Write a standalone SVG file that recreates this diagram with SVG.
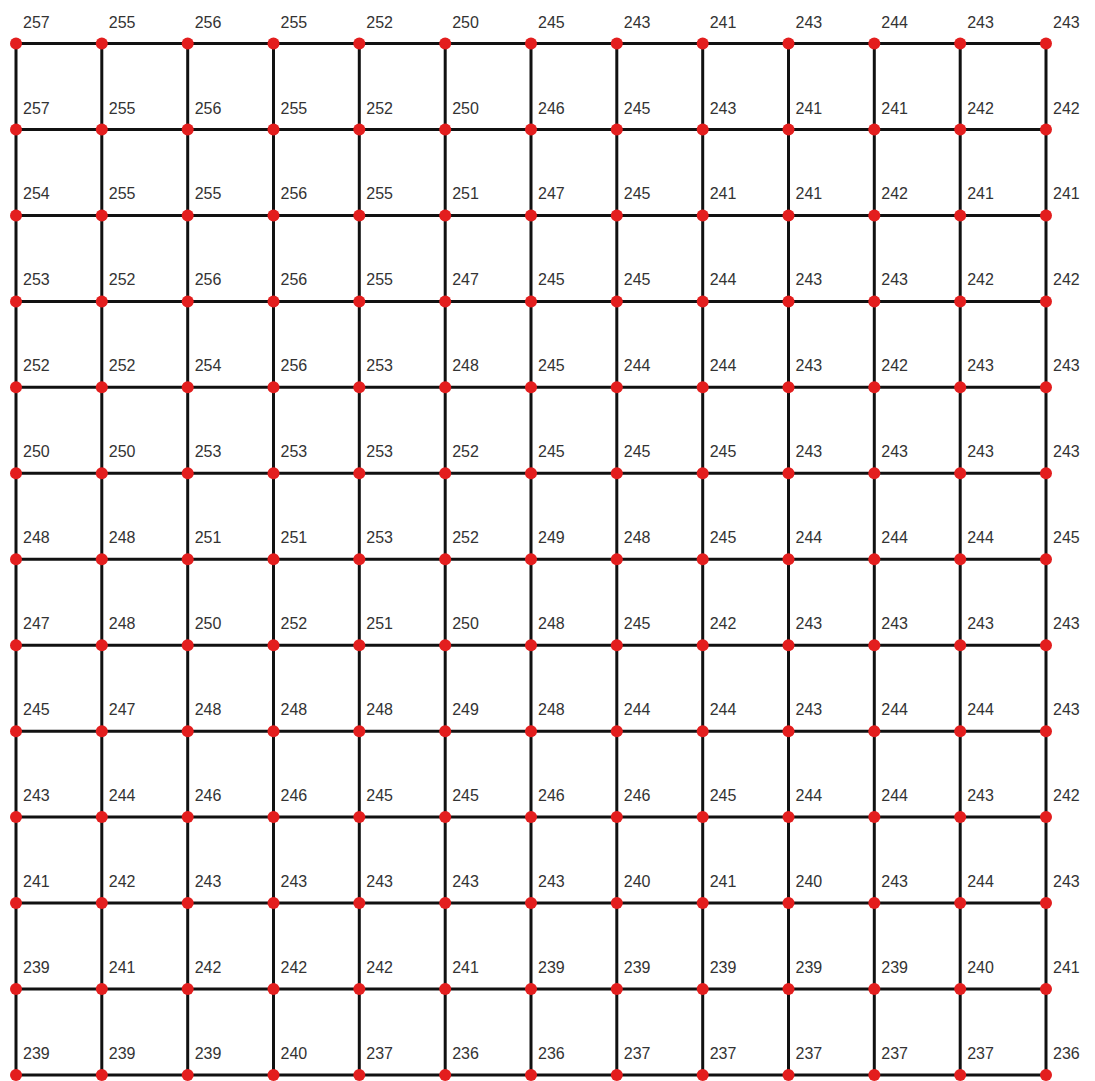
<svg xmlns="http://www.w3.org/2000/svg" width="1095" height="1081" viewBox="0 0 1095 1081">
<style>
.e{stroke:#111;stroke-width:3;fill:none}
.n circle{fill:#e31e1e}
.n text{font-family:"Liberation Sans",Arial,sans-serif;font-size:16px;fill:#333}
</style>
<rect width="1095" height="1081" fill="#fff"/>
<g id="connectors" class="e">
<line x1="16" y1="43.5" x2="1046" y2="43.5"/>
<line x1="16" y1="129.5" x2="1046" y2="129.5"/>
<line x1="16" y1="215.4" x2="1046" y2="215.4"/>
<line x1="16" y1="301.4" x2="1046" y2="301.4"/>
<line x1="16" y1="387.3" x2="1046" y2="387.3"/>
<line x1="16" y1="473.3" x2="1046" y2="473.3"/>
<line x1="16" y1="559.3" x2="1046" y2="559.3"/>
<line x1="16" y1="645.2" x2="1046" y2="645.2"/>
<line x1="16" y1="731.2" x2="1046" y2="731.2"/>
<line x1="16" y1="817.1" x2="1046" y2="817.1"/>
<line x1="16" y1="903.1" x2="1046" y2="903.1"/>
<line x1="16" y1="989.1" x2="1046" y2="989.1"/>
<line x1="16" y1="1075" x2="1046" y2="1075"/>
<line x1="16" y1="43.5" x2="16" y2="1075"/>
<line x1="101.8" y1="43.5" x2="101.8" y2="1075"/>
<line x1="187.7" y1="43.5" x2="187.7" y2="1075"/>
<line x1="273.5" y1="43.5" x2="273.5" y2="1075"/>
<line x1="359.3" y1="43.5" x2="359.3" y2="1075"/>
<line x1="445.2" y1="43.5" x2="445.2" y2="1075"/>
<line x1="531" y1="43.5" x2="531" y2="1075"/>
<line x1="616.8" y1="43.5" x2="616.8" y2="1075"/>
<line x1="702.7" y1="43.5" x2="702.7" y2="1075"/>
<line x1="788.5" y1="43.5" x2="788.5" y2="1075"/>
<line x1="874.3" y1="43.5" x2="874.3" y2="1075"/>
<line x1="960.2" y1="43.5" x2="960.2" y2="1075"/>
<line x1="1046" y1="43.5" x2="1046" y2="1075"/>
</g>
<defs><circle id="dot" r="6"/></defs>
<g id="nodes">
<g id="n0_0" class="n" transform="translate(16,43.5)"><circle r="6"/><text x="7" y="-16">257</text></g>
<g id="n0_1" class="n" transform="translate(101.8,43.5)"><circle r="6"/><text x="7" y="-16">255</text></g>
<g id="n0_2" class="n" transform="translate(187.7,43.5)"><circle r="6"/><text x="7" y="-16">256</text></g>
<g id="n0_3" class="n" transform="translate(273.5,43.5)"><circle r="6"/><text x="7" y="-16">255</text></g>
<g id="n0_4" class="n" transform="translate(359.3,43.5)"><circle r="6"/><text x="7" y="-16">252</text></g>
<g id="n0_5" class="n" transform="translate(445.2,43.5)"><circle r="6"/><text x="7" y="-16">250</text></g>
<g id="n0_6" class="n" transform="translate(531,43.5)"><circle r="6"/><text x="7" y="-16">245</text></g>
<g id="n0_7" class="n" transform="translate(616.8,43.5)"><circle r="6"/><text x="7" y="-16">243</text></g>
<g id="n0_8" class="n" transform="translate(702.7,43.5)"><circle r="6"/><text x="7" y="-16">241</text></g>
<g id="n0_9" class="n" transform="translate(788.5,43.5)"><circle r="6"/><text x="7" y="-16">243</text></g>
<g id="n0_10" class="n" transform="translate(874.3,43.5)"><circle r="6"/><text x="7" y="-16">244</text></g>
<g id="n0_11" class="n" transform="translate(960.2,43.5)"><circle r="6"/><text x="7" y="-16">243</text></g>
<g id="n0_12" class="n" transform="translate(1046,43.5)"><circle r="6"/><text x="7" y="-16">243</text></g>
<g id="n1_0" class="n" transform="translate(16,129.5)"><circle r="6"/><text x="7" y="-16">257</text></g>
<g id="n1_1" class="n" transform="translate(101.8,129.5)"><circle r="6"/><text x="7" y="-16">255</text></g>
<g id="n1_2" class="n" transform="translate(187.7,129.5)"><circle r="6"/><text x="7" y="-16">256</text></g>
<g id="n1_3" class="n" transform="translate(273.5,129.5)"><circle r="6"/><text x="7" y="-16">255</text></g>
<g id="n1_4" class="n" transform="translate(359.3,129.5)"><circle r="6"/><text x="7" y="-16">252</text></g>
<g id="n1_5" class="n" transform="translate(445.2,129.5)"><circle r="6"/><text x="7" y="-16">250</text></g>
<g id="n1_6" class="n" transform="translate(531,129.5)"><circle r="6"/><text x="7" y="-16">246</text></g>
<g id="n1_7" class="n" transform="translate(616.8,129.5)"><circle r="6"/><text x="7" y="-16">245</text></g>
<g id="n1_8" class="n" transform="translate(702.7,129.5)"><circle r="6"/><text x="7" y="-16">243</text></g>
<g id="n1_9" class="n" transform="translate(788.5,129.5)"><circle r="6"/><text x="7" y="-16">241</text></g>
<g id="n1_10" class="n" transform="translate(874.3,129.5)"><circle r="6"/><text x="7" y="-16">241</text></g>
<g id="n1_11" class="n" transform="translate(960.2,129.5)"><circle r="6"/><text x="7" y="-16">242</text></g>
<g id="n1_12" class="n" transform="translate(1046,129.5)"><circle r="6"/><text x="7" y="-16">242</text></g>
<g id="n2_0" class="n" transform="translate(16,215.4)"><circle r="6"/><text x="7" y="-16">254</text></g>
<g id="n2_1" class="n" transform="translate(101.8,215.4)"><circle r="6"/><text x="7" y="-16">255</text></g>
<g id="n2_2" class="n" transform="translate(187.7,215.4)"><circle r="6"/><text x="7" y="-16">255</text></g>
<g id="n2_3" class="n" transform="translate(273.5,215.4)"><circle r="6"/><text x="7" y="-16">256</text></g>
<g id="n2_4" class="n" transform="translate(359.3,215.4)"><circle r="6"/><text x="7" y="-16">255</text></g>
<g id="n2_5" class="n" transform="translate(445.2,215.4)"><circle r="6"/><text x="7" y="-16">251</text></g>
<g id="n2_6" class="n" transform="translate(531,215.4)"><circle r="6"/><text x="7" y="-16">247</text></g>
<g id="n2_7" class="n" transform="translate(616.8,215.4)"><circle r="6"/><text x="7" y="-16">245</text></g>
<g id="n2_8" class="n" transform="translate(702.7,215.4)"><circle r="6"/><text x="7" y="-16">241</text></g>
<g id="n2_9" class="n" transform="translate(788.5,215.4)"><circle r="6"/><text x="7" y="-16">241</text></g>
<g id="n2_10" class="n" transform="translate(874.3,215.4)"><circle r="6"/><text x="7" y="-16">242</text></g>
<g id="n2_11" class="n" transform="translate(960.2,215.4)"><circle r="6"/><text x="7" y="-16">241</text></g>
<g id="n2_12" class="n" transform="translate(1046,215.4)"><circle r="6"/><text x="7" y="-16">241</text></g>
<g id="n3_0" class="n" transform="translate(16,301.4)"><circle r="6"/><text x="7" y="-16">253</text></g>
<g id="n3_1" class="n" transform="translate(101.8,301.4)"><circle r="6"/><text x="7" y="-16">252</text></g>
<g id="n3_2" class="n" transform="translate(187.7,301.4)"><circle r="6"/><text x="7" y="-16">256</text></g>
<g id="n3_3" class="n" transform="translate(273.5,301.4)"><circle r="6"/><text x="7" y="-16">256</text></g>
<g id="n3_4" class="n" transform="translate(359.3,301.4)"><circle r="6"/><text x="7" y="-16">255</text></g>
<g id="n3_5" class="n" transform="translate(445.2,301.4)"><circle r="6"/><text x="7" y="-16">247</text></g>
<g id="n3_6" class="n" transform="translate(531,301.4)"><circle r="6"/><text x="7" y="-16">245</text></g>
<g id="n3_7" class="n" transform="translate(616.8,301.4)"><circle r="6"/><text x="7" y="-16">245</text></g>
<g id="n3_8" class="n" transform="translate(702.7,301.4)"><circle r="6"/><text x="7" y="-16">244</text></g>
<g id="n3_9" class="n" transform="translate(788.5,301.4)"><circle r="6"/><text x="7" y="-16">243</text></g>
<g id="n3_10" class="n" transform="translate(874.3,301.4)"><circle r="6"/><text x="7" y="-16">243</text></g>
<g id="n3_11" class="n" transform="translate(960.2,301.4)"><circle r="6"/><text x="7" y="-16">242</text></g>
<g id="n3_12" class="n" transform="translate(1046,301.4)"><circle r="6"/><text x="7" y="-16">242</text></g>
<g id="n4_0" class="n" transform="translate(16,387.3)"><circle r="6"/><text x="7" y="-16">252</text></g>
<g id="n4_1" class="n" transform="translate(101.8,387.3)"><circle r="6"/><text x="7" y="-16">252</text></g>
<g id="n4_2" class="n" transform="translate(187.7,387.3)"><circle r="6"/><text x="7" y="-16">254</text></g>
<g id="n4_3" class="n" transform="translate(273.5,387.3)"><circle r="6"/><text x="7" y="-16">256</text></g>
<g id="n4_4" class="n" transform="translate(359.3,387.3)"><circle r="6"/><text x="7" y="-16">253</text></g>
<g id="n4_5" class="n" transform="translate(445.2,387.3)"><circle r="6"/><text x="7" y="-16">248</text></g>
<g id="n4_6" class="n" transform="translate(531,387.3)"><circle r="6"/><text x="7" y="-16">245</text></g>
<g id="n4_7" class="n" transform="translate(616.8,387.3)"><circle r="6"/><text x="7" y="-16">244</text></g>
<g id="n4_8" class="n" transform="translate(702.7,387.3)"><circle r="6"/><text x="7" y="-16">244</text></g>
<g id="n4_9" class="n" transform="translate(788.5,387.3)"><circle r="6"/><text x="7" y="-16">243</text></g>
<g id="n4_10" class="n" transform="translate(874.3,387.3)"><circle r="6"/><text x="7" y="-16">242</text></g>
<g id="n4_11" class="n" transform="translate(960.2,387.3)"><circle r="6"/><text x="7" y="-16">243</text></g>
<g id="n4_12" class="n" transform="translate(1046,387.3)"><circle r="6"/><text x="7" y="-16">243</text></g>
<g id="n5_0" class="n" transform="translate(16,473.3)"><circle r="6"/><text x="7" y="-16">250</text></g>
<g id="n5_1" class="n" transform="translate(101.8,473.3)"><circle r="6"/><text x="7" y="-16">250</text></g>
<g id="n5_2" class="n" transform="translate(187.7,473.3)"><circle r="6"/><text x="7" y="-16">253</text></g>
<g id="n5_3" class="n" transform="translate(273.5,473.3)"><circle r="6"/><text x="7" y="-16">253</text></g>
<g id="n5_4" class="n" transform="translate(359.3,473.3)"><circle r="6"/><text x="7" y="-16">253</text></g>
<g id="n5_5" class="n" transform="translate(445.2,473.3)"><circle r="6"/><text x="7" y="-16">252</text></g>
<g id="n5_6" class="n" transform="translate(531,473.3)"><circle r="6"/><text x="7" y="-16">245</text></g>
<g id="n5_7" class="n" transform="translate(616.8,473.3)"><circle r="6"/><text x="7" y="-16">245</text></g>
<g id="n5_8" class="n" transform="translate(702.7,473.3)"><circle r="6"/><text x="7" y="-16">245</text></g>
<g id="n5_9" class="n" transform="translate(788.5,473.3)"><circle r="6"/><text x="7" y="-16">243</text></g>
<g id="n5_10" class="n" transform="translate(874.3,473.3)"><circle r="6"/><text x="7" y="-16">243</text></g>
<g id="n5_11" class="n" transform="translate(960.2,473.3)"><circle r="6"/><text x="7" y="-16">243</text></g>
<g id="n5_12" class="n" transform="translate(1046,473.3)"><circle r="6"/><text x="7" y="-16">243</text></g>
<g id="n6_0" class="n" transform="translate(16,559.3)"><circle r="6"/><text x="7" y="-16">248</text></g>
<g id="n6_1" class="n" transform="translate(101.8,559.3)"><circle r="6"/><text x="7" y="-16">248</text></g>
<g id="n6_2" class="n" transform="translate(187.7,559.3)"><circle r="6"/><text x="7" y="-16">251</text></g>
<g id="n6_3" class="n" transform="translate(273.5,559.3)"><circle r="6"/><text x="7" y="-16">251</text></g>
<g id="n6_4" class="n" transform="translate(359.3,559.3)"><circle r="6"/><text x="7" y="-16">253</text></g>
<g id="n6_5" class="n" transform="translate(445.2,559.3)"><circle r="6"/><text x="7" y="-16">252</text></g>
<g id="n6_6" class="n" transform="translate(531,559.3)"><circle r="6"/><text x="7" y="-16">249</text></g>
<g id="n6_7" class="n" transform="translate(616.8,559.3)"><circle r="6"/><text x="7" y="-16">248</text></g>
<g id="n6_8" class="n" transform="translate(702.7,559.3)"><circle r="6"/><text x="7" y="-16">245</text></g>
<g id="n6_9" class="n" transform="translate(788.5,559.3)"><circle r="6"/><text x="7" y="-16">244</text></g>
<g id="n6_10" class="n" transform="translate(874.3,559.3)"><circle r="6"/><text x="7" y="-16">244</text></g>
<g id="n6_11" class="n" transform="translate(960.2,559.3)"><circle r="6"/><text x="7" y="-16">244</text></g>
<g id="n6_12" class="n" transform="translate(1046,559.3)"><circle r="6"/><text x="7" y="-16">245</text></g>
<g id="n7_0" class="n" transform="translate(16,645.2)"><circle r="6"/><text x="7" y="-16">247</text></g>
<g id="n7_1" class="n" transform="translate(101.8,645.2)"><circle r="6"/><text x="7" y="-16">248</text></g>
<g id="n7_2" class="n" transform="translate(187.7,645.2)"><circle r="6"/><text x="7" y="-16">250</text></g>
<g id="n7_3" class="n" transform="translate(273.5,645.2)"><circle r="6"/><text x="7" y="-16">252</text></g>
<g id="n7_4" class="n" transform="translate(359.3,645.2)"><circle r="6"/><text x="7" y="-16">251</text></g>
<g id="n7_5" class="n" transform="translate(445.2,645.2)"><circle r="6"/><text x="7" y="-16">250</text></g>
<g id="n7_6" class="n" transform="translate(531,645.2)"><circle r="6"/><text x="7" y="-16">248</text></g>
<g id="n7_7" class="n" transform="translate(616.8,645.2)"><circle r="6"/><text x="7" y="-16">245</text></g>
<g id="n7_8" class="n" transform="translate(702.7,645.2)"><circle r="6"/><text x="7" y="-16">242</text></g>
<g id="n7_9" class="n" transform="translate(788.5,645.2)"><circle r="6"/><text x="7" y="-16">243</text></g>
<g id="n7_10" class="n" transform="translate(874.3,645.2)"><circle r="6"/><text x="7" y="-16">243</text></g>
<g id="n7_11" class="n" transform="translate(960.2,645.2)"><circle r="6"/><text x="7" y="-16">243</text></g>
<g id="n7_12" class="n" transform="translate(1046,645.2)"><circle r="6"/><text x="7" y="-16">243</text></g>
<g id="n8_0" class="n" transform="translate(16,731.2)"><circle r="6"/><text x="7" y="-16">245</text></g>
<g id="n8_1" class="n" transform="translate(101.8,731.2)"><circle r="6"/><text x="7" y="-16">247</text></g>
<g id="n8_2" class="n" transform="translate(187.7,731.2)"><circle r="6"/><text x="7" y="-16">248</text></g>
<g id="n8_3" class="n" transform="translate(273.5,731.2)"><circle r="6"/><text x="7" y="-16">248</text></g>
<g id="n8_4" class="n" transform="translate(359.3,731.2)"><circle r="6"/><text x="7" y="-16">248</text></g>
<g id="n8_5" class="n" transform="translate(445.2,731.2)"><circle r="6"/><text x="7" y="-16">249</text></g>
<g id="n8_6" class="n" transform="translate(531,731.2)"><circle r="6"/><text x="7" y="-16">248</text></g>
<g id="n8_7" class="n" transform="translate(616.8,731.2)"><circle r="6"/><text x="7" y="-16">244</text></g>
<g id="n8_8" class="n" transform="translate(702.7,731.2)"><circle r="6"/><text x="7" y="-16">244</text></g>
<g id="n8_9" class="n" transform="translate(788.5,731.2)"><circle r="6"/><text x="7" y="-16">243</text></g>
<g id="n8_10" class="n" transform="translate(874.3,731.2)"><circle r="6"/><text x="7" y="-16">244</text></g>
<g id="n8_11" class="n" transform="translate(960.2,731.2)"><circle r="6"/><text x="7" y="-16">244</text></g>
<g id="n8_12" class="n" transform="translate(1046,731.2)"><circle r="6"/><text x="7" y="-16">243</text></g>
<g id="n9_0" class="n" transform="translate(16,817.1)"><circle r="6"/><text x="7" y="-16">243</text></g>
<g id="n9_1" class="n" transform="translate(101.8,817.1)"><circle r="6"/><text x="7" y="-16">244</text></g>
<g id="n9_2" class="n" transform="translate(187.7,817.1)"><circle r="6"/><text x="7" y="-16">246</text></g>
<g id="n9_3" class="n" transform="translate(273.5,817.1)"><circle r="6"/><text x="7" y="-16">246</text></g>
<g id="n9_4" class="n" transform="translate(359.3,817.1)"><circle r="6"/><text x="7" y="-16">245</text></g>
<g id="n9_5" class="n" transform="translate(445.2,817.1)"><circle r="6"/><text x="7" y="-16">245</text></g>
<g id="n9_6" class="n" transform="translate(531,817.1)"><circle r="6"/><text x="7" y="-16">246</text></g>
<g id="n9_7" class="n" transform="translate(616.8,817.1)"><circle r="6"/><text x="7" y="-16">246</text></g>
<g id="n9_8" class="n" transform="translate(702.7,817.1)"><circle r="6"/><text x="7" y="-16">245</text></g>
<g id="n9_9" class="n" transform="translate(788.5,817.1)"><circle r="6"/><text x="7" y="-16">244</text></g>
<g id="n9_10" class="n" transform="translate(874.3,817.1)"><circle r="6"/><text x="7" y="-16">244</text></g>
<g id="n9_11" class="n" transform="translate(960.2,817.1)"><circle r="6"/><text x="7" y="-16">243</text></g>
<g id="n9_12" class="n" transform="translate(1046,817.1)"><circle r="6"/><text x="7" y="-16">242</text></g>
<g id="n10_0" class="n" transform="translate(16,903.1)"><circle r="6"/><text x="7" y="-16">241</text></g>
<g id="n10_1" class="n" transform="translate(101.8,903.1)"><circle r="6"/><text x="7" y="-16">242</text></g>
<g id="n10_2" class="n" transform="translate(187.7,903.1)"><circle r="6"/><text x="7" y="-16">243</text></g>
<g id="n10_3" class="n" transform="translate(273.5,903.1)"><circle r="6"/><text x="7" y="-16">243</text></g>
<g id="n10_4" class="n" transform="translate(359.3,903.1)"><circle r="6"/><text x="7" y="-16">243</text></g>
<g id="n10_5" class="n" transform="translate(445.2,903.1)"><circle r="6"/><text x="7" y="-16">243</text></g>
<g id="n10_6" class="n" transform="translate(531,903.1)"><circle r="6"/><text x="7" y="-16">243</text></g>
<g id="n10_7" class="n" transform="translate(616.8,903.1)"><circle r="6"/><text x="7" y="-16">240</text></g>
<g id="n10_8" class="n" transform="translate(702.7,903.1)"><circle r="6"/><text x="7" y="-16">241</text></g>
<g id="n10_9" class="n" transform="translate(788.5,903.1)"><circle r="6"/><text x="7" y="-16">240</text></g>
<g id="n10_10" class="n" transform="translate(874.3,903.1)"><circle r="6"/><text x="7" y="-16">243</text></g>
<g id="n10_11" class="n" transform="translate(960.2,903.1)"><circle r="6"/><text x="7" y="-16">244</text></g>
<g id="n10_12" class="n" transform="translate(1046,903.1)"><circle r="6"/><text x="7" y="-16">243</text></g>
<g id="n11_0" class="n" transform="translate(16,989.1)"><circle r="6"/><text x="7" y="-16">239</text></g>
<g id="n11_1" class="n" transform="translate(101.8,989.1)"><circle r="6"/><text x="7" y="-16">241</text></g>
<g id="n11_2" class="n" transform="translate(187.7,989.1)"><circle r="6"/><text x="7" y="-16">242</text></g>
<g id="n11_3" class="n" transform="translate(273.5,989.1)"><circle r="6"/><text x="7" y="-16">242</text></g>
<g id="n11_4" class="n" transform="translate(359.3,989.1)"><circle r="6"/><text x="7" y="-16">242</text></g>
<g id="n11_5" class="n" transform="translate(445.2,989.1)"><circle r="6"/><text x="7" y="-16">241</text></g>
<g id="n11_6" class="n" transform="translate(531,989.1)"><circle r="6"/><text x="7" y="-16">239</text></g>
<g id="n11_7" class="n" transform="translate(616.8,989.1)"><circle r="6"/><text x="7" y="-16">239</text></g>
<g id="n11_8" class="n" transform="translate(702.7,989.1)"><circle r="6"/><text x="7" y="-16">239</text></g>
<g id="n11_9" class="n" transform="translate(788.5,989.1)"><circle r="6"/><text x="7" y="-16">239</text></g>
<g id="n11_10" class="n" transform="translate(874.3,989.1)"><circle r="6"/><text x="7" y="-16">239</text></g>
<g id="n11_11" class="n" transform="translate(960.2,989.1)"><circle r="6"/><text x="7" y="-16">240</text></g>
<g id="n11_12" class="n" transform="translate(1046,989.1)"><circle r="6"/><text x="7" y="-16">241</text></g>
<g id="n12_0" class="n" transform="translate(16,1075)"><circle r="6"/><text x="7" y="-16">239</text></g>
<g id="n12_1" class="n" transform="translate(101.8,1075)"><circle r="6"/><text x="7" y="-16">239</text></g>
<g id="n12_2" class="n" transform="translate(187.7,1075)"><circle r="6"/><text x="7" y="-16">239</text></g>
<g id="n12_3" class="n" transform="translate(273.5,1075)"><circle r="6"/><text x="7" y="-16">240</text></g>
<g id="n12_4" class="n" transform="translate(359.3,1075)"><circle r="6"/><text x="7" y="-16">237</text></g>
<g id="n12_5" class="n" transform="translate(445.2,1075)"><circle r="6"/><text x="7" y="-16">236</text></g>
<g id="n12_6" class="n" transform="translate(531,1075)"><circle r="6"/><text x="7" y="-16">236</text></g>
<g id="n12_7" class="n" transform="translate(616.8,1075)"><circle r="6"/><text x="7" y="-16">237</text></g>
<g id="n12_8" class="n" transform="translate(702.7,1075)"><circle r="6"/><text x="7" y="-16">237</text></g>
<g id="n12_9" class="n" transform="translate(788.5,1075)"><circle r="6"/><text x="7" y="-16">237</text></g>
<g id="n12_10" class="n" transform="translate(874.3,1075)"><circle r="6"/><text x="7" y="-16">237</text></g>
<g id="n12_11" class="n" transform="translate(960.2,1075)"><circle r="6"/><text x="7" y="-16">237</text></g>
<g id="n12_12" class="n" transform="translate(1046,1075)"><circle r="6"/><text x="7" y="-16">236</text></g>
</g>
</svg>
